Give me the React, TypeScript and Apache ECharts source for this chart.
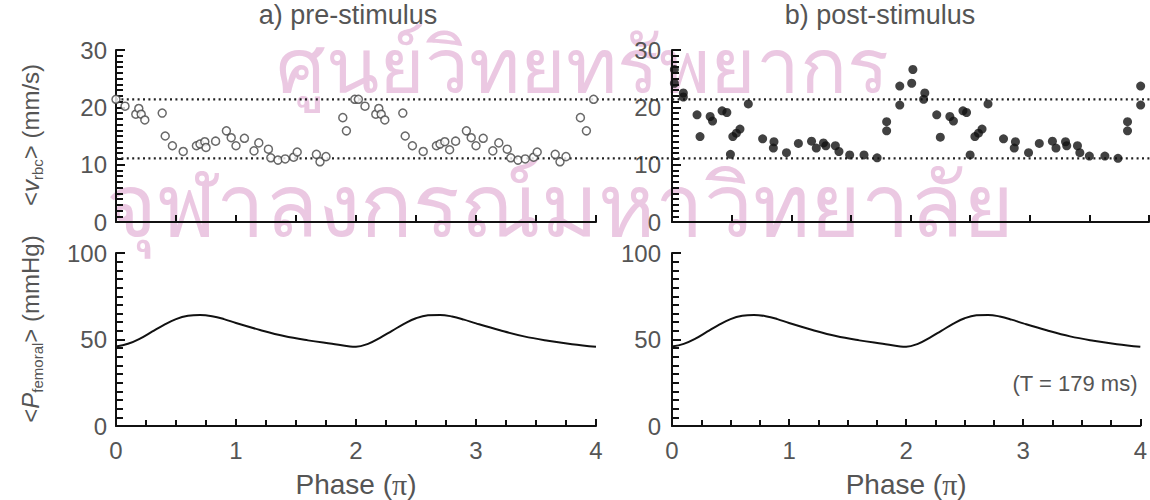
import React, { useEffect, useRef } from "react";
import * as echarts from "echarts";

// ---- data ----
// a) pre-stimulus: phase (units of pi) and <v_rbc> (mm/s), open circles
const prePhase = [
  0.0, 0.075, 0.165, 0.19, 0.21, 0.24, 0.385, 0.41, 0.47, 0.56, 0.67, 0.7, 0.74, 0.75, 0.83, 0.92, 0.96, 1.0,
  1.07, 1.15, 1.19, 1.27, 1.29, 1.35, 1.41, 1.48, 1.51, 1.67, 1.7, 1.75, 1.89, 1.92,
  1.99, 2.02, 2.075, 2.165, 2.19, 2.21, 2.24, 2.39, 2.41, 2.47, 2.56, 2.67, 2.7, 2.74, 2.78, 2.83, 2.92, 2.96, 3.0,
  3.06, 3.14, 3.19, 3.26, 3.29, 3.35, 3.41, 3.48, 3.51, 3.66, 3.7, 3.75, 3.87, 3.92, 3.98,
];
const preVel = [
  21.4, 20.2, 18.8, 19.8, 18.8, 17.8, 19.0, 15.0, 13.3, 12.3, 13.3, 13.6, 14.0, 13.0, 14.1, 15.9, 14.7, 13.3,
  14.6, 12.4, 13.8, 12.7, 11.2, 10.8, 11.0, 11.3, 12.2, 11.8, 10.5, 11.4, 18.2, 15.9,
  21.4, 21.4, 20.2, 18.8, 19.8, 18.8, 17.8, 19.0, 15.0, 13.3, 12.3, 13.3, 13.6, 14.0, 12.6, 14.1, 15.9, 14.7, 13.3,
  14.6, 12.4, 13.8, 12.7, 11.2, 10.8, 11.0, 11.3, 12.2, 11.8, 10.5, 11.4, 18.2, 15.9, 21.4,
];

// b) post-stimulus: filled dots
const postPhase = [
  0.02, 0.02, 0.095, 0.095, 0.21, 0.235, 0.32, 0.34, 0.42, 0.46, 0.49, 0.51, 0.54, 0.57, 0.64, 0.76, 0.855, 0.85,
  0.96, 1.06, 1.17, 1.21, 1.27, 1.29, 1.37, 1.4, 1.49, 1.61, 1.72, 1.8, 1.8, 1.91, 1.91,
  2.02, 2.01, 2.12, 2.11, 2.22, 2.25, 2.33, 2.36, 2.44, 2.47, 2.5, 2.54, 2.57, 2.6, 2.65, 2.78, 2.88, 2.87,
  2.99, 3.08, 3.19, 3.22, 3.3, 3.31, 3.4, 3.42, 3.5, 3.63, 3.74, 3.82, 3.82, 3.93, 3.93,
];
const postVel = [
  26.6, 24.2, 22.5, 21.8, 18.7, 14.9, 18.4, 17.6, 19.4, 19.1, 11.8, 14.9, 15.5, 16.2, 20.6, 14.5, 14.0, 12.9,
  12.1, 13.7, 14.1, 12.9, 13.8, 13.3, 13.3, 12.3, 11.7, 11.7, 11.2, 17.5, 15.9, 23.7, 20.4,
  26.6, 24.2, 22.5, 21.4, 18.7, 14.8, 18.4, 17.6, 19.4, 19.1, 11.7, 14.9, 15.5, 16.2, 20.6, 14.5, 14.0, 12.9,
  12.1, 13.7, 14.1, 12.9, 14.0, 13.3, 13.3, 12.1, 11.5, 11.5, 11.1, 17.5, 15.9, 23.7, 20.4,
];

// reference levels (dotted lines), mm/s
const refLevels = [21.4, 11.1];

// <P_femoral> (mmHg) vs phase
const pressPhase = [
  0.0, 0.1, 0.2, 0.3, 0.4, 0.5, 0.6, 0.7, 0.8, 0.9, 1.0, 1.2, 1.4, 1.6, 1.8, 1.95, 2.0,
  2.1, 2.2, 2.3, 2.4, 2.5, 2.6, 2.7, 2.8, 2.9, 3.0, 3.2, 3.4, 3.6, 3.8, 4.0,
];
const pressPre = [
  46.0, 47.5, 50.5, 54.5, 58.5, 61.8, 63.7, 64.2, 63.5, 61.8, 59.5, 55.5, 52.0, 49.5, 47.5, 46.0, 45.8,
  47.5, 51.0, 55.0, 59.0, 62.3, 64.0, 64.2, 63.3, 61.5, 59.3, 55.3, 51.8, 49.3, 47.3, 45.8,
];
const pressPost = [
  46.0, 47.5, 50.5, 54.5, 58.5, 61.8, 63.7, 64.2, 63.5, 61.8, 59.5, 55.5, 52.0, 49.5, 47.5, 46.0, 45.8,
  47.5, 51.0, 55.0, 59.0, 62.3, 64.0, 64.2, 63.3, 61.5, 59.3, 55.3, 51.8, 49.3, 47.3, 45.8,
];

const panelTitles = ["a) pre-stimulus", "b) post-stimulus"];
const xName = "Phase ({pi|\u03c0})";
const periodNote = "(T = 179 ms)";
const watermark = ["ศูนย์วิทยทรัพยากร", "จุฬาลงกรณ์มหาวิทยาลัย"];

const FONT = "'Liberation Sans', Arial, sans-serif";
const SERIF = "'Liberation Serif', 'DejaVu Serif', serif";
const TXT = "#555";
const AX = "#111";

function xAxisCfg(gridIndex: number, bottom: boolean) {
  return {
    type: "value",
    gridIndex,
    min: 0,
    max: 4,
    interval: bottom ? 1 : 0.5,
    axisLine: { show: true, onZero: false, lineStyle: { color: AX, width: 2 } },
    axisTick: { show: true, inside: true, length: 7, lineStyle: { color: AX, width: 2 } },
    minorTick: bottom
      ? { show: true, splitNumber: 4, length: 6, lineStyle: { color: AX, width: 2 } }
      : { show: false },
    axisLabel: bottom
      ? { show: true, fontSize: 24, color: TXT, fontFamily: FONT, margin: 12 }
      : { show: false },
    splitLine: { show: false },
    name: bottom ? xName : "",
    nameLocation: "middle",
    nameGap: 43,
    nameTextStyle: {
      fontSize: 28,
      color: TXT,
      fontFamily: FONT,
      rich: { pi: { fontSize: 30, fontFamily: SERIF, color: TXT } },
    },
  };
}

function yAxisCfg(gridIndex: number, max: number, interval: number, margin: number) {
  return {
    type: "value",
    gridIndex,
    min: 0,
    max,
    interval,
    axisLine: { show: true, onZero: false, lineStyle: { color: AX, width: 2 } },
    axisTick: { show: true, inside: true, length: 9, lineStyle: { color: AX, width: 2 } },
    minorTick: { show: true, splitNumber: 10, length: 7, lineStyle: { color: AX, width: 2 } },
    axisLabel: { show: true, fontSize: 24, color: TXT, fontFamily: FONT, margin },
    splitLine: { show: false },
  };
}

export default function App() {
  const ref = useRef<HTMLDivElement>(null);
  useEffect(() => {
    if (!ref.current) return;
    const chart = echarts.init(ref.current, null, { renderer: "svg" });
    const subRich = {
      it: { fontStyle: "italic", fontSize: 24, lineHeight: 30, fontFamily: FONT, color: TXT },
      sub: { fontSize: 15, lineHeight: 15, verticalAlign: "bottom", fontFamily: FONT, color: TXT },
    };
    const option: any = {
      animation: false,
      backgroundColor: "#fff",
      grid: [
        { left: 116, top: 50, width: 480, height: 172 },
        { left: 672, top: 50, width: 477, height: 172 },
        { left: 116, top: 253, width: 480, height: 174 },
        { left: 672, top: 253, width: 477, height: 174 },
        { left: 116, top: 50, width: 1034, height: 172 },
      ],
      xAxis: [
        xAxisCfg(0, false),
        xAxisCfg(1, false),
        xAxisCfg(2, true),
        xAxisCfg(3, true),
        { type: "value", gridIndex: 4, min: 0, max: 1, show: false },
      ],
      yAxis: [
        yAxisCfg(0, 30, 10, 9),
        yAxisCfg(1, 30, 10, 11),
        yAxisCfg(2, 100, 50, 9),
        yAxisCfg(3, 100, 50, 11),
        { type: "value", gridIndex: 4, min: 0, max: 30, show: false },
      ],
      graphic: [
        {
          type: "text",
          x: 582,
          y: 66,
          z: 0,
          style: { text: watermark[0], fontSize: 78, fontFamily: FONT, fill: "#ebc8e2", align: "center", verticalAlign: "middle" },
        },
        {
          type: "text",
          x: 560,
          y: 205,
          z: 0,
          style: { text: watermark[1], fontSize: 87, fontFamily: FONT, fill: "#ebc8e2", align: "center", verticalAlign: "middle" },
        },
        {
          type: "text",
          x: 348,
          y: 15,
          style: { text: panelTitles[0], fontSize: 27, fontFamily: FONT, fill: TXT, align: "center", verticalAlign: "middle" },
        },
        {
          type: "text",
          x: 880,
          y: 15,
          style: { text: panelTitles[1], fontSize: 27, fontFamily: FONT, fill: TXT, align: "center", verticalAlign: "middle" },
        },
        {
          type: "text",
          x: 1075,
          y: 383,
          style: { text: periodNote, fontSize: 22, fontFamily: FONT, fill: TXT, align: "center", verticalAlign: "middle" },
        },
        {
          type: "text",
          x: 30,
          y: 135,
          rotation: Math.PI / 2,
          style: {
            text: "<{it|v}{sub|rbc}> (mm/s)",
            rich: subRich,
            fontSize: 24,
            lineHeight: 30,
            fontFamily: FONT,
            fill: TXT,
            align: "center",
            verticalAlign: "middle",
          },
        },
        {
          type: "text",
          x: 30,
          y: 329,
          rotation: Math.PI / 2,
          style: {
            text: "<{it|P}{sub|femoral}> (mmHg)",
            rich: subRich,
            fontSize: 24,
            lineHeight: 30,
            fontFamily: FONT,
            fill: TXT,
            align: "center",
            verticalAlign: "middle",
          },
        },
      ],
      series: [
        ...refLevels.map((lvl) => ({
          type: "line",
          xAxisIndex: 4,
          yAxisIndex: 4,
          data: [
            [0, lvl],
            [1, lvl],
          ],
          symbol: "none",
          silent: true,
          z: 3,
          lineStyle: { color: "#222", width: 2.2, type: [2, 3.4] },
        })),
        {
          type: "scatter",
          xAxisIndex: 0,
          yAxisIndex: 0,
          data: prePhase.map((x, i) => [x, preVel[i]]),
          symbol: "circle",
          symbolSize: 8,
          z: 4,
          itemStyle: { color: "#fff", borderColor: "#444", borderWidth: 1.5 },
        },
        {
          type: "scatter",
          xAxisIndex: 1,
          yAxisIndex: 1,
          data: postPhase.map((x, i) => [x, postVel[i]]),
          symbol: "circle",
          symbolSize: 9,
          z: 4,
          itemStyle: { color: "#111" },
        },
        {
          type: "line",
          xAxisIndex: 2,
          yAxisIndex: 2,
          data: pressPhase.map((x, i) => [x, pressPre[i]]),
          symbol: "none",
          smooth: 0.4,
          lineStyle: { color: "#111", width: 2 },
        },
        {
          type: "line",
          xAxisIndex: 3,
          yAxisIndex: 3,
          data: pressPhase.map((x, i) => [x, pressPost[i]]),
          symbol: "none",
          smooth: 0.4,
          lineStyle: { color: "#111", width: 2 },
        },
      ],
    };
    chart.setOption(option);
    return () => chart.dispose();
  }, []);
  return (
    <div
      ref={ref}
      style={{ position: "absolute", left: 0, top: 0, width: 1150, height: 500, background: "#fff" }}
    />
  );
}
